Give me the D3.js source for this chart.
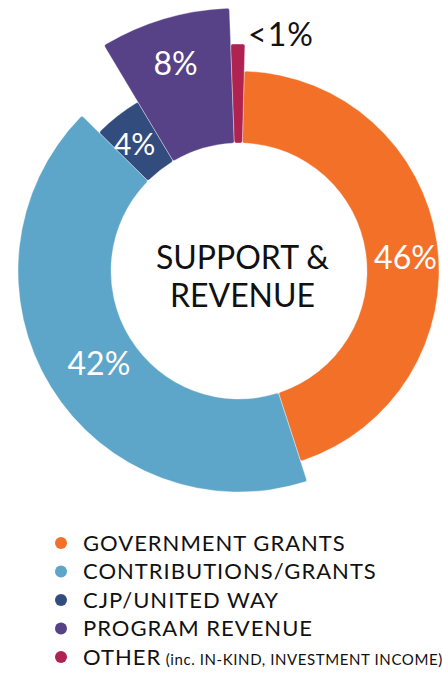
<!DOCTYPE html>
<html>
<head>
<meta charset="utf-8">
<script src="https://cdn.jsdelivr.net/npm/d3@7"></script>
<style>
  body { margin: 0; background: #fff; }
  svg { display: block; font-family: Lato, "Open Sans", sans-serif; }
</style>
</head>
<body>
<svg id="chart" width="442" height="674"></svg>
<script>
'use strict';

// data
var categories = ['GOVERNMENT GRANTS', 'CONTRIBUTIONS/GRANTS', 'CJP/UNITED WAY', 'PROGRAM REVENUE', 'OTHER'];
var shares = [44.6, 42.4, 4.0, 8.0, 1.0];
var shareLabels = ['46%', '42%', '4%', '8%', '<1%'];
var emphasis = [200, 221, 197, 263, 227]; // outer radius of each wedge (the chart pushes some out)
var legendNotes = ['', '', '', '', '(inc. IN-KIND, INVESTMENT INCOME)'];

// layout
var cx = 239, cy = 271;
var innerR = 128;
var colors = ['#f37029', '#5da6c9', '#324c7d', '#574187', '#b02351'];
// label placement: angle (deg, clockwise from top) and radius from centre
var labelPos = [[85.5, 167], [236.5, 168], [320.5, 164], [343, 217], [2.2, 237]];

var svg = d3.select('#chart');
var g = svg.append('g').attr('transform', 'translate(' + cx + ',' + cy + ')');

var start = 1.5 * Math.PI / 180;
var pie = d3.pie().sort(null).value(function (d) { return d; })
  .startAngle(start).endAngle(start + 2 * Math.PI);
var arcs = pie(shares);

var arc = d3.arc()
  .innerRadius(innerR)
  .outerRadius(function (d, i) { return emphasis[d.index]; })
  .cornerRadius(2);

// wedges
g.selectAll('path.slice').data(arcs).enter().append('path')
  .attr('class', 'slice')
  .attr('d', arc)
  .attr('fill', function (d) { return colors[d.index]; })
  .attr('stroke', 'rgba(255,255,255,0.6)')
  .attr('stroke-width', 0.6);

// percentage labels
g.selectAll('text.pct').data(arcs).enter().append('text')
  .attr('class', 'pct')
  .attr('x', function (d) { var p = labelPos[d.index]; return p[1] * Math.sin(p[0] * Math.PI / 180); })
  .attr('y', function (d) { var p = labelPos[d.index]; return -p[1] * Math.cos(p[0] * Math.PI / 180); })
  .attr('dy', '0.36em')
  .attr('text-anchor', function (d) { return d.index === 4 ? 'start' : 'middle'; })
  .style('font-size', function (d) { return d.index === 2 ? '30px' : '32px'; })
  .style('letter-spacing', function (d) { return d.index === 4 ? '1px' : null; })
  .style('font-weight', 400)
  .style('fill', function (d) { return d.index === 4 ? '#111' : '#fff'; })
  .text(function (d) { return shareLabels[d.index]; });

// centre title
var title = g.append('text')
  .attr('text-anchor', 'middle')
  .style('font-size', '32px')
  .style('fill', '#111');
title.append('tspan').attr('x', 3.5).attr('y', -2).text('SUPPORT &');
title.append('tspan').attr('x', 3.5).attr('y', 36).text('REVENUE');

// legend
var legend = svg.append('g').attr('class', 'legend').attr('transform', 'translate(61,543)');
var row = legend.selectAll('g.row').data(categories).enter().append('g')
  .attr('class', 'row')
  .attr('transform', function (d, i) { return 'translate(0,' + (i * 28.5) + ')'; });

row.append('circle').attr('r', 6).attr('fill', function (d, i) { return colors[i]; });

var lt = row.append('text')
  .attr('x', 22)
  .attr('dy', '0.36em')
  .style('font-size', '22px')
  .style('letter-spacing', '1px')
  .style('fill', '#111');
lt.append('tspan').text(function (d) { return d; });
lt.append('tspan')
  .style('font-size', '15px')
  .style('letter-spacing', '0.6px')
  .text(function (d, i) { return legendNotes[i] ? ' ' + legendNotes[i] : ''; });
</script>
</body>
</html>
